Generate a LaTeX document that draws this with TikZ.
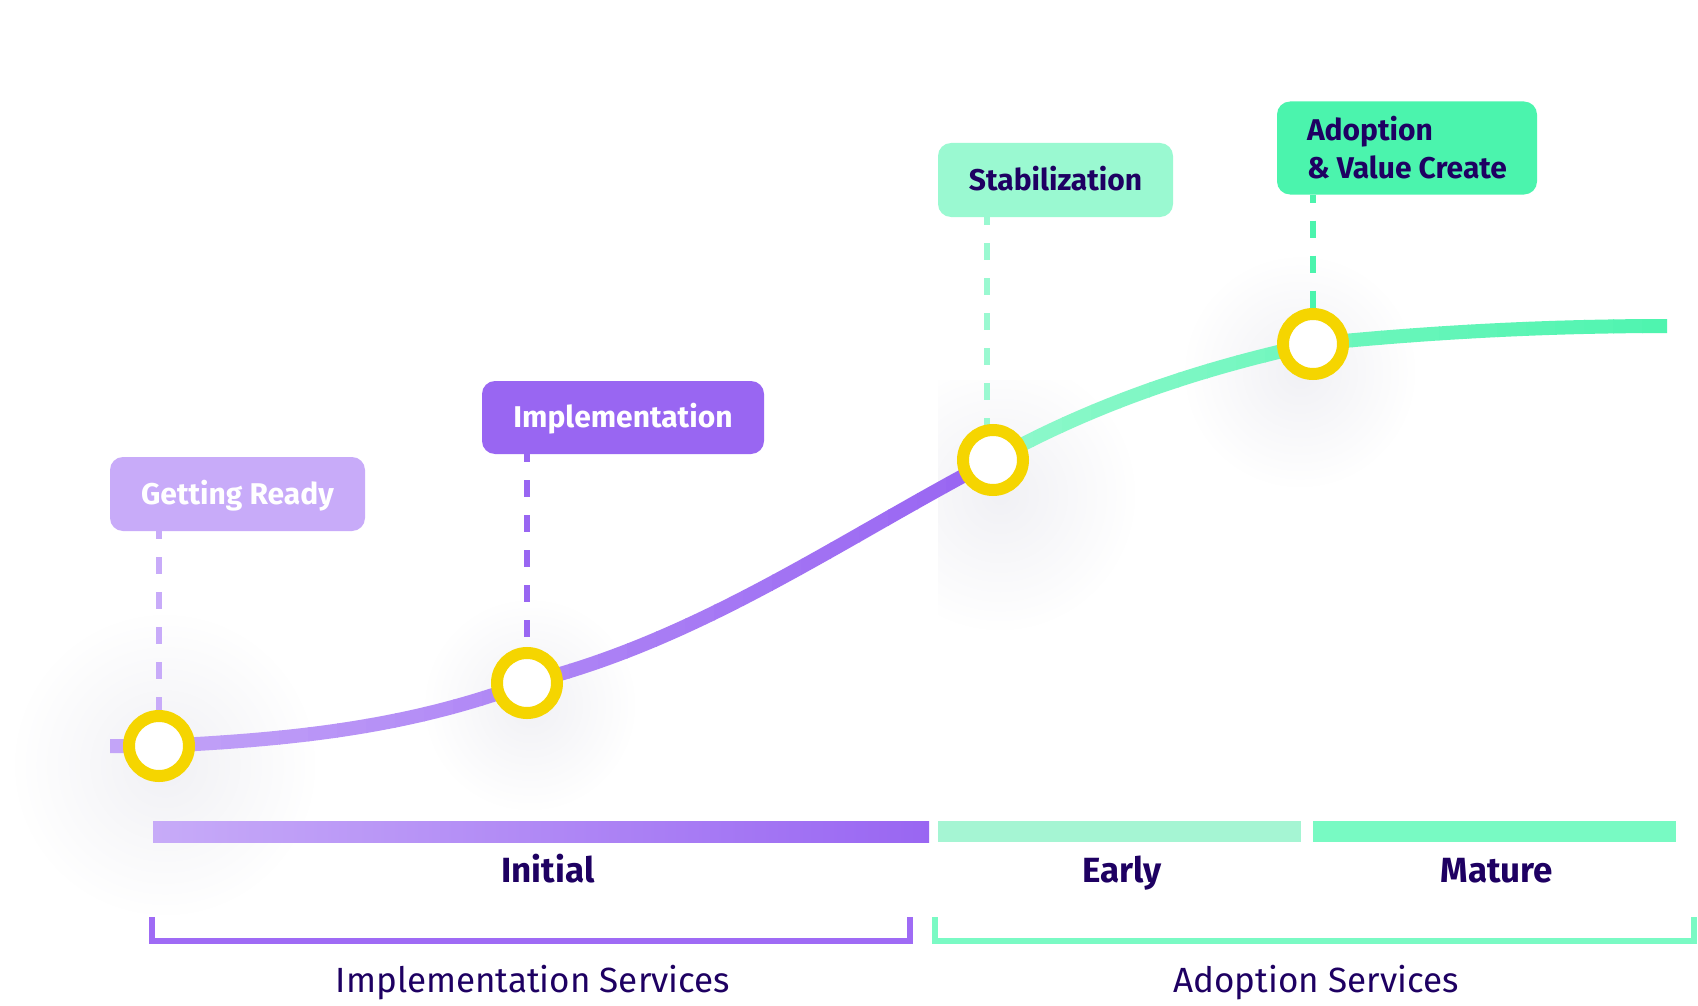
\documentclass[tikz,border=0pt]{standalone}
\usepackage{fontspec}
\setmainfont{Fira Sans}
\usetikzlibrary{fadings,calc}
\definecolor{cGR}{HTML}{C8ABF9}
\definecolor{cIM}{HTML}{9966F2}
\definecolor{cST}{HTML}{9AF9D1}
\definecolor{cAD}{HTML}{4BF4AD}
\definecolor{cDark}{HTML}{1E0062}
\definecolor{cYellow}{HTML}{F5D500}
\definecolor{cPL}{HTML}{C3A4F8}
\definecolor{cPD}{HTML}{9966F2}
\definecolor{cGL}{HTML}{8EF8CB}
\definecolor{cGD}{HTML}{4CF4AE}
\definecolor{cBarL}{HTML}{C7ABF8}
\definecolor{cBarE}{HTML}{A5F5D3}
\definecolor{cBarM}{HTML}{78FAC3}
\definecolor{cBrP}{HTML}{9F6BF5}
\definecolor{cBrG}{HTML}{7AFAC4}
\definecolor{cGlow}{HTML}{F1F1F5}
\tikzfading[name=glowfade, inner color=transparent!0, outer color=transparent!100]
\begin{document}
\begin{tikzpicture}[x=1pt,y=-1pt,
  glow/.style={fill=cGlow, path fading=glowfade},
  curve/.style={line width=14pt},
  box/.style={rounded corners=13pt, inner sep=0pt, font=\fontsize{30}{35}\selectfont\bfseries, text height=20pt, text depth=0pt},
  dashln/.style={line width=6pt, dash pattern=on 17pt off 18pt, dash phase=9pt},
  ring/.style={circle, draw=cYellow, line width=12pt, fill=white, minimum size=60pt, inner sep=0pt},
  stagelbl/.style={anchor=base, text=cDark, font=\fontsize{35}{40}\selectfont\bfseries},
  svc/.style={anchor=base, text=cDark, font=\fontsize{35}{40}\selectfont},
  bracket/.style={line width=6pt}
]
\useasboundingbox (0,0) rectangle (1698,1006);
\fill[white] (0,0) rectangle (1698,1006);

% soft glows
\fill[glow] (165,765) circle (150);
\fill[glow] (530,705) circle (105);
\begin{scope}
  \clip (938,380) rectangle (1250,720);
  \fill[glow] (1000,495) circle (135);
\end{scope}
\fill[glow] (1300,372) circle (115);

% key points
\coordinate (ps) at (110,746);
\coordinate (p1) at (159,746);
\coordinate (p2) at (527,683);
\coordinate (p3) at (993,460);
\coordinate (p4) at (1313,344);
\coordinate (pe) at (1667,326);
\def\curvepath{(ps) -- (p1) .. controls (282,740) and (404,729.5) .. (p2) .. controls (700,640) and (840,540) .. (p3) .. controls (1100,401) and (1206,367.5) .. (p4) .. controls (1431,332) and (1549,326) .. (pe)}

% curve, purple part
\foreach \i in {0,...,29}{
  \pgfmathsetmacro\xa{105+\i*29}
  \pgfmathsetmacro\xb{\xa+30}
  \pgfmathtruncatemacro\pc{100*\i/29}
  \begin{scope}
    \clip (\xa,0) rectangle (\xb,1006);
    \draw[curve, cPD!\pc!cPL] \curvepath;
  \end{scope}
}
% curve, green part
\foreach \i in {0,...,24}{
  \pgfmathsetmacro\xa{975+\i*29}
  \pgfmathsetmacro\xb{\xa+30}
  \pgfmathtruncatemacro\pc{100*\i/24}
  \begin{scope}
    \clip (\xa,0) rectangle (\xb,1006);
    \draw[curve, cGD!\pc!cGL] \curvepath;
  \end{scope}
}

% label boxes
\node[box, fill=cGR, text=white, minimum width=255pt, minimum height=74pt] (gr) at (237.5,494) {Getting Ready};
\node[box, fill=cIM, text=white, minimum width=282pt, minimum height=73pt] (im) at (623,417.5) {Implementation};
\node[box, fill=cST, text=cDark, minimum width=235pt, minimum height=74pt] (st) at (1055.5,180) {Stabilization};
\node[rounded corners=13pt, inner sep=0pt, fill=cAD, text=cDark, minimum width=260pt, minimum height=93pt, align=left, font=\fontsize{30}{38}\selectfont\bfseries] (ad) at (1407,148) {Adoption\\\& Value Create};

% dashed drop lines
\coordinate (s3) at (987,432);
\draw[dashln, cGR] (gr.south -| p1) -- (p1);
\draw[dashln, cIM] (im.south -| p2) -- (p2);
\draw[dashln, cST] (st.south -| s3) -- (s3);
\draw[dashln, cAD] (ad.south -| p4) -- (p4);

% milestone rings
\node[ring] (c1) at (p1) {};
\node[ring] (c2) at (p2) {};
\node[ring] (c3) at (p3) {};
\node[ring] (c4) at (p4) {};

% stage bars
\shade[left color=cBarL, right color=cPD] (153,821) rectangle (929,842);
\fill[cBarE] (938,821) rectangle (1301,842);
\fill[cBarM] (1313,821) rectangle (1676,842);

\node[stagelbl] (ini) at (548,882) {Initial};
\node[stagelbl] (ear) at (1122,882) {Early};
\node[stagelbl] (mat) at (1497,882) {Mature};

% brackets
\draw[bracket, cBrP] (152,917) -- (152,941) -- (910,941) -- (910,917);
\draw[bracket, cBrG] (935,917) -- (935,941) -- (1694,941) -- (1694,917);

\node[svc] (is) at (533,992) {Implementation Services};
\node[svc] (as) at (1316,992) {Adoption Services};
\end{tikzpicture}
\end{document}
